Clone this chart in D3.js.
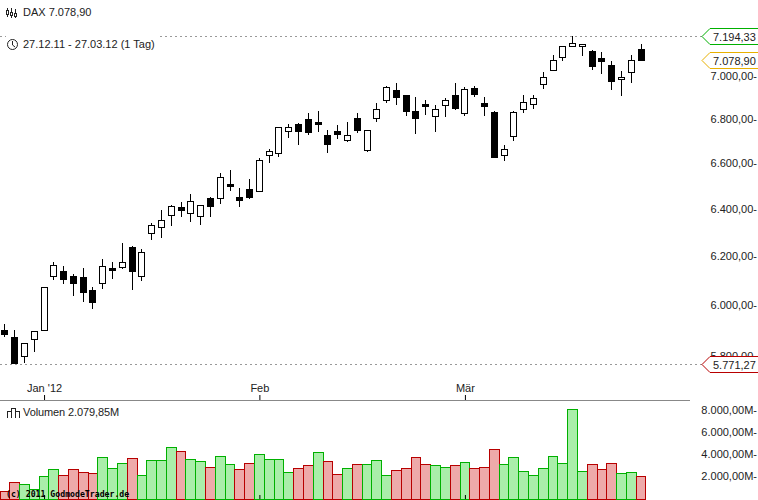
<!DOCTYPE html>
<html>
<head>
<meta charset="utf-8">
<script src="https://cdn.jsdelivr.net/npm/d3@7"></script>
<style>
body { margin: 0; background: #fff; }
svg { display: block; }
text { font-family: "Liberation Sans", Arial, sans-serif; font-size: 11px; fill: #222; }
</style>
</head>
<body>
<script>
//DATA
var dates = ["27.12","28.12","29.12","30.12",
    "02.01","03.01","04.01","05.01","06.01","09.01","10.01","11.01","12.01","13.01","16.01","17.01","18.01","19.01","20.01","23.01","24.01","25.01","26.01","27.01","30.01","31.01",
    "01.02","02.02","03.02","06.02","07.02","08.02","09.02","10.02","13.02","14.02","15.02","16.02","17.02","20.02","21.02","22.02","23.02","24.02","27.02","28.02","29.02",
    "01.03","02.03","05.03","06.03","07.03","08.03","09.03","12.03","13.03","14.03","15.03","16.03","19.03","20.03","21.03","22.03","23.03","26.03","27.03"];
var opens = [5904,5877,5803,5869,5904,6122,6143,6122,6118,6065,6094,6155,6160,6243,6122,6302,6328,6379,6413,6387,6375,6452,6452,6513,6456,6491,
    6483,6641,6650,6750,6781,6804,6790,6732,6750,6709,6808,6663,6808,6891,6938,6915,6840,6873,6817,6868,6915,
    6831,6947,6877,6836,6641,6727,6850,6873,6966,7032,7093,7146,7146,7122,7088,7055,6990,7023,7132];
var highs = [5928,5904,5853,5900,6077,6181,6164,6130,6155,6077,6193,6181,6260,6247,6235,6345,6400,6421,6434,6469,6421,6456,6562,6575,6496,6535,
    6628,6668,6768,6781,6786,6831,6840,6754,6777,6790,6831,6754,6877,6957,6971,6915,6905,6891,6868,6900,6971,
    6952,6957,6905,6840,6686,6840,6915,6915,7023,7103,7146,7194.33,7156,7127,7117,7074,7027,7103,7156];
var lows = [5877,5771.27,5775,5818,5904,6106,6090,6041,6016,5988,6069,6110,6151,6065,6102,6273,6281,6332,6370,6349,6336,6370,6426,6483,6413,6447,
    6478,6606,6632,6718,6686,6732,6745,6650,6714,6700,6741,6654,6790,6877,6868,6817,6736,6822,6745,6813,6845,
    6817,6905,6817,6632,6615,6705,6831,6850,6943,7032,7074,7146,7098,7032,7013,6938,6910,6971,7074];
var closes = [5888,5775,5853,5900,6077,6168,6110,6094,6057,6016,6164,6147,6181,6143,6222,6336,6358,6417,6400,6439,6421,6417,6544,6505,6443,6456,
    6619,6659,6768,6768,6750,6745,6781,6691,6736,6732,6754,6754,6850,6952,6905,6840,6808,6863,6850,6891,6854,
    6943,6919,6863,6632,6668,6836,6882,6900,6999,7079,7146,7160,7156,7051,7074,6980,6999,7079,7078.9];
var volumes = [727,1545,1364,909,2091,2727,2182,2727,2454,2363,3818,2818,3272,3727,2182,3545,3545,4727,4363,3636,3454,2909,3909,3181,2727,3272,
    4090,3636,3636,2454,2818,3090,4272,3454,2272,2818,3181,3181,3545,2182,2636,2818,3818,3181,3090,2909,3090,
    3363,2818,2909,4545,3181,3818,2545,2182,2818,3909,3272,8181,2545,3181,2727,3272,2363,2454,2079.85];
// 1 = green volume bar, 0 = red volume bar
var volumeUp = [0,0,1,1,1,1,0,0,0,0,1,1,1,0,1,1,1,1,0,1,1,0,1,1,0,0,
    1,1,1,1,0,0,1,0,0,1,0,1,1,1,0,0,0,0,1,1,0,
    1,0,0,0,1,1,1,1,1,1,1,1,1,0,0,0,1,1,0];
var priceTicks = [5800,6000,6200,6400,6600,6800,7000];
var volumeTicks = [2000,4000,6000,8000];
var monthTicks = ["02.01","01.02","01.03"];
var monthLabels = ["Jan '12","Feb","Mär"];

//GENERAL VARIABLES
var width = 758,
    height = 500,
    green = "#00b000",
    red = "#b80000",
    gold = "#e8b000";

var de = d3.formatLocale({decimal: ",", thousands: ".", grouping: [3], currency: ["", ""]});
var fmt = de.format(",.2f");

var x = d3.scalePoint().domain(dates).range([4.9, 641.1]);
var step = x.step();
var y = d3.scaleLog().domain([5771.27, 7194.33]).range([364, 36]);
var yVol = d3.scaleLinear().domain([0, 8000]).range([499, 411]);
function px(d) { return Math.floor(x(d)); }

var svg = d3.select("body").append("svg")
    .attr("width", width)
    .attr("height", height)
    .attr("viewBox", "0 0 " + width + " " + height);

//REFERENCE LINES
svg.selectAll(".level")
    .data([7194.33, 5771.27])
    .enter().append("line")
    .attr("class", "level")
    .attr("x1", 0)
    .attr("x2", 702)
    .attr("y1", function(d) { return Math.round(y(d)) + 0.5; })
    .attr("y2", function(d) { return Math.round(y(d)) + 0.5; })
    .attr("stroke", "#999")
    .attr("stroke-dasharray", "2,3");

svg.append("rect").attr("x", 6).attr("y", 34).attr("width", 151).attr("height", 6).attr("fill", "#fff");

//CANDLES
var candles = svg.append("g").attr("shape-rendering", "crispEdges");
candles.selectAll(".wick")
    .data(dates)
    .enter().append("line")
    .attr("class", "wick")
    .attr("x1", function(d) { return px(d) + 0.5; })
    .attr("x2", function(d) { return px(d) + 0.5; })
    .attr("y1", function(d, i) { return y(highs[i]); })
    .attr("y2", function(d, i) { return y(lows[i]); })
    .attr("stroke", "#000");

candles.selectAll(".body")
    .data(dates)
    .enter().append("rect")
    .attr("class", "body")
    .attr("x", function(d) { return px(d) - 2.5; })
    .attr("width", 6)
    .attr("y", function(d, i) { return Math.round(y(Math.max(opens[i], closes[i]))) + 0.5; })
    .attr("height", function(d, i) { return Math.max(1, Math.round(y(Math.min(opens[i], closes[i]))) - Math.round(y(Math.max(opens[i], closes[i])))); })
    .attr("fill", function(d, i) { return closes[i] >= opens[i] ? "#fff" : "#000"; })
    .attr("stroke", "#000");

//VOLUME BARS
svg.append("g").attr("shape-rendering", "crispEdges")
    .selectAll(".vol")
    .data(dates)
    .enter().append("rect")
    .attr("class", "vol")
    .attr("x", function(d) { return Math.floor(x(d) - step / 2) + 0.5; })
    .attr("width", function(d) { return Math.floor(x(d) + step / 2) - Math.floor(x(d) - step / 2); })
    .attr("y", function(d, i) { return Math.round(yVol(volumes[i])) + 0.5; })
    .attr("height", function(d, i) { return 499 - Math.round(yVol(volumes[i])); })
    .attr("fill", function(d, i) { return volumeUp[i] ? "#aaeeaa" : "#eeaaaa"; })
    .attr("stroke", function(d, i) { return volumeUp[i] ? green : red; });

//SEPARATOR AND TIME AXES
svg.append("line")
    .attr("x1", 0).attr("x2", 690).attr("y1", 400.5).attr("y2", 400.5)
    .attr("stroke", "#888");

var topAxis = d3.axisBottom(x).tickValues(monthTicks).tickSize(-5).tickFormat(function(d) { return monthLabels[monthTicks.indexOf(d)]; });
var topG = svg.append("g").attr("transform", "translate(0,400)").call(topAxis);
topG.select(".domain").remove();
topG.selectAll("text").attr("y", -8).attr("dy", 0);

var bottomAxis = d3.axisBottom(x).tickValues(monthTicks).tickSize(-4).tickFormat("");
var bottomG = svg.append("g").attr("transform", "translate(0,499)").call(bottomAxis);
bottomG.select(".domain").remove();

//VALUE AXES
var priceAxis = d3.axisRight(y).tickValues(priceTicks).tickSize(0)
    .tickFormat(function(d) { return fmt(d) + "-"; });
var priceG = svg.append("g").call(priceAxis);
priceG.select(".domain").remove();
priceG.selectAll("text").attr("x", 757).attr("text-anchor", "end").attr("dy", "0.22em");

var volAxis = d3.axisRight(yVol).tickValues(volumeTicks).tickSize(0)
    .tickFormat(function(d) { return fmt(d) + "M-"; });
var volG = svg.append("g").call(volAxis);
volG.select(".domain").remove();
volG.selectAll("text").attr("x", 757).attr("text-anchor", "end").attr("dy", "0.22em");

//PRICE FLAGS
var flags = [
    {value: 7194.33, color: green},
    {value: closes[closes.length - 1], color: gold},
    {value: 5771.27, color: red}
];
flags.forEach(function(f) {
    var fy = Math.round(y(f.value)) + 0.5;
    svg.append("path")
        .attr("d", "M758," + (fy - 8) + "H710L702," + fy + "L710," + (fy + 8) + "H758")
        .attr("fill", "#fff")
        .attr("stroke", f.color);
    svg.append("text")
        .attr("x", 713)
        .attr("y", fy + 4)
        .text(fmt(f.value));
});

//HEADER TEXT AND ICONS
svg.append("text").attr("x", 23).attr("y", 16).text("DAX " + fmt(closes[closes.length - 1]));
svg.append("text").attr("x", 23).attr("y", 48).text("27.12.11 - 27.03.12 (1 Tag)");
svg.append("text").attr("x", 23).attr("y", 416).style("letter-spacing", "-0.1px").text("Volumen " + fmt(volumes[volumes.length - 1]) + "M");

var icons = svg.append("g").attr("fill", "none").attr("stroke", "#222").attr("shape-rendering", "crispEdges");
icons.append("path").attr("d", "M7.5,8V17M11.5,8V18M15.5,9V18");
icons.append("path").attr("d", "M6.5,10.5h2v4h-2zM10.5,12.5h2v3h-2zM14.5,13.5h2v3h-2z").attr("fill", "#fff");
icons.append("circle").attr("cx", 12.5).attr("cy", 44.5).attr("r", 5).attr("shape-rendering", "auto");
icons.append("path").attr("d", "M12.5,41V45L15,47").attr("shape-rendering", "auto");
icons.append("path").attr("d", "M7.5,418V411.5H11.5V408.5H15.5V411.5H19.5V418M11.5,411.5V418M15.5,411.5V418");

//COPYRIGHT
svg.append("text")
    .attr("x", 6)
    .attr("y", 497)
    .style("font-family", "'DejaVu Sans Mono', monospace")
    .style("font-size", "8.2px")
    .style("font-weight", "bold")
    .style("fill", "#000")
    .text("(c) 2011 GodmodeTrader.de");
</script>
</body>
</html>
